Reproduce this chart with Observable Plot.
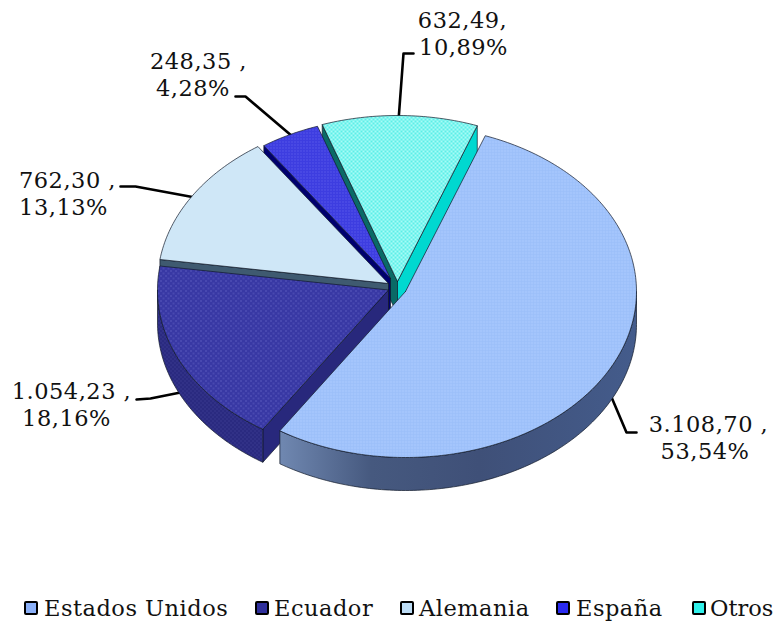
<!DOCTYPE html>
<html><head><meta charset="utf-8">
<script src="https://cdn.jsdelivr.net/npm/d3@7"></script>
<script src="https://cdn.jsdelivr.net/npm/@observablehq/plot@0.6"></script>
<style>
html,body{margin:0;background:#fff;}
#chart{position:relative;width:774px;height:621px;overflow:hidden;font-family:"DejaVu Serif",serif;color:#111;}
#chart svg{display:block;position:absolute;left:0;top:0;}
#chart svg text{letter-spacing:.5px;}
.lg{position:absolute;top:596px;font-size:22.5px;line-height:24px;letter-spacing:.5px;white-space:nowrap;}
.sw{position:absolute;top:601px;width:10px;height:10px;border:2.5px solid #000;border-radius:2px;}
</style></head><body><div id="chart"></div>
<script>
const categories = ["Estados Unidos","Ecuador","Alemania","España","Otros"];
const amounts = [3108.70,1054.23,762.30,248.35,632.49];
const shares = [53.54,18.16,13.13,4.28,10.89];
const amountLabels = ["3.108,70 ,","1.054,23 ,","762,30 ,","248,35 ,","632,49,"];
const shareLabels = ["53,54%","18,16%","13,13%","4,28%","10,89%"];

const W=774,H=596,CX=396,CY=290,RX=231,RY=166,DEPTH=33/166,START=20.2;
const ux=p=>(p-CX)/RX, uy=p=>(p-CY)/RY;
const apexes=[[405,291],[388,289.5],[388,283],[390,278],[397,281]];
const scales=[1,1,1,.97,1];
const tops=["url(#pUS)","url(#pEC)","url(#pAL)","url(#pES)","url(#pOT)"];
const outer=["url(#gUS)","url(#pECw)","#8fa6b8","#2020a8","#00b8b0"];
const wallStart=["#3f5580","#28287c","#3f5a70","#00006e","#0a6a66"];
const wallEnd=["#3f5580","#28287c","#3f5a70","#00006e","#00d8d0"];
const total=d3.sum(amounts);
let acc=START;
const polys=[];
categories.forEach((c,i)=>{
  const a0=acc,a1=acc+amounts[i]/total*360; acc=a1;
  const [ax,ay]=[ux(apexes[i][0]),uy(apexes[i][1])];
  const sc=scales[i];
  const P=(a,dz=0)=>{const r=a*Math.PI/180;return [ax+sc*Math.sin(r),ay-sc*Math.cos(r)+dz];};
  const arc=(s,e,dz=0)=>{const n=Math.max(2,Math.ceil(Math.abs(e-s)));return d3.range(n+1).map(k=>P(s+(e-s)*k/n,dz));};
  const add=(id,pts,fill)=>pts.forEach(p=>polys.push({id,x:p[0],y:p[1],fill}));
  const C=[ax,ay],Cb=[ax,ay+DEPTH];
  const sin=a=>Math.sin(a*Math.PI/180);
  // radial walls, only where they face the viewer
  if(sin(a0)<0) add(`${i}r0`,[C,P(a0),P(a0,DEPTH),Cb,C],wallStart[i]);
  if(sin(a1)>0) add(`${i}r1`,[C,P(a1),P(a1,DEPTH),Cb,C],wallEnd[i]);
  // outer wall: the part of the rim that faces the viewer
  const lo=Math.max(a0,90),hi=Math.min(a1,270);
  if(hi>lo) add(`${i}o`,[...arc(lo,hi),...arc(hi,lo,DEPTH),P(lo)],outer[i]);
  // top face
  add(`${i}t`,[C,...arc(a0,a1),C],tops[i]);
});
// Draw order: back to front
const order=[4,3,2,1,0];
const byOrder=order.flatMap(i=>polys.filter(d=>d.id[0]==String(i)));
const groups=d3.groups(byOrder,d=>d.id);

const defs=()=>{
  const ns="http://www.w3.org/2000/svg";
  const g=document.createElementNS(ns,"defs");
  g.innerHTML=`
  <linearGradient id="gUS" gradientUnits="userSpaceOnUse" x1="281" x2="640" y1="0" y2="0">
    <stop offset="0" stop-color="#6f87b0"/><stop offset=".25" stop-color="#46597f"/><stop offset=".55" stop-color="#3f5078"/><stop offset="1" stop-color="#445c8c"/></linearGradient>
  <pattern id="pUS" width="3" height="3" patternUnits="userSpaceOnUse"><rect width="3" height="3" fill="#a0c2fb"/><rect width="1" height="1" fill="#b4d0ff"/><rect x="1.5" y="1.5" width="1" height="1" fill="#92b6f4"/></pattern>
  <pattern id="pEC" width="5" height="5" patternUnits="userSpaceOnUse"><rect width="5" height="5" fill="#3838a4"/><rect width="1" height="1" fill="#7a7ad4"/><rect x="2.5" y="2.5" width="1" height="1" fill="#7a7ad4"/></pattern>
  <pattern id="pECw" width="4" height="4" patternUnits="userSpaceOnUse"><rect width="4" height="4" fill="#2a2a80"/><rect width="1" height="1" fill="#45459c"/><rect x="2" y="2" width="1" height="1" fill="#45459c"/></pattern>
  <pattern id="pAL" width="2" height="2" patternUnits="userSpaceOnUse"><rect width="2" height="2" fill="#cfe8f8"/><rect width="1" height="1" fill="#bedcf2"/><rect x="1" y="1" width="1" height="1" fill="#dff0fb"/></pattern>
  <pattern id="pES" width="3" height="3" patternUnits="userSpaceOnUse"><rect width="3" height="3" fill="#3d3de0"/><rect width="1" height="1" fill="#6a6af0"/></pattern>
  <pattern id="pOT" width="4" height="4" patternUnits="userSpaceOnUse"><rect width="4" height="4" fill="#5ceee8"/><rect width="2" height="2" fill="#a8fbf6"/><rect x="2" y="2" width="2" height="2" fill="#a8fbf6"/></pattern>`;
  return g;
};

const leaders=[
  [[636,432],[626,432],[609,392]],
  [[136,399],[150,398],[185,391]],
  [[120,186],[135,186],[200,198]],
  [[235,96],[245,96],[292,136]],
  [[413,53],[403,53],[398,120]]
];
const leaderData=leaders.flatMap((l,i)=>l.map(p=>({id:i,x:ux(p[0]),y:uy(p[1])})));
const labelPos=[[708,704.5,424,451],[71,66,391,418],[67,63,180,207],[198,192.5,61,88],[462,463,20,47]];
const labelData=labelPos.flatMap((p,i)=>[
  {x:ux(p[0]),y:uy(p[2]),t:amountLabels[i]},
  {x:ux(p[1]),y:uy(p[3]),t:shareLabels[i]}
]);

const plot=Plot.plot({
  width:W,height:H,margin:0,
  x:{domain:[ux(0),ux(W)],range:[0,W],axis:null},
  y:{domain:[uy(0),uy(H)],range:[0,H],axis:null},
  marks:[
    defs,
    Plot.line(leaderData,{x:"x",y:"y",z:"id",stroke:"#000",strokeWidth:2.6,curve:"linear"}),
    ...groups.map(([id,rows])=>Plot.line(rows,{x:"x",y:"y",fill:rows[0].fill,stroke:"#101828",strokeWidth:.7,curve:"linear",strokeLinejoin:"round"})),
    Plot.text(labelData,{x:"x",y:"y",text:"t",fontSize:22.5,fill:"#111",fontFamily:"DejaVu Serif",textAnchor:"middle",lineAnchor:"middle"})
  ]
});
const root=document.getElementById("chart");
root.appendChild(plot);
const swX=[24,255,400,556,692],txX=[44,274,419,576,710];
const swFill=["#8bb0f8","#30309c","#bcdcf5","#2a2af0","#30f0ea"];
categories.forEach((c,i)=>{
  const s=document.createElement("div");s.className="sw";s.style.left=swX[i]+"px";s.style.background=swFill[i];
  const t=document.createElement("div");t.className="lg";t.style.left=txX[i]+"px";t.textContent=c;
  if(i===4) t.style.letterSpacing="0";
  root.append(s,t);
});
</script></body></html>
